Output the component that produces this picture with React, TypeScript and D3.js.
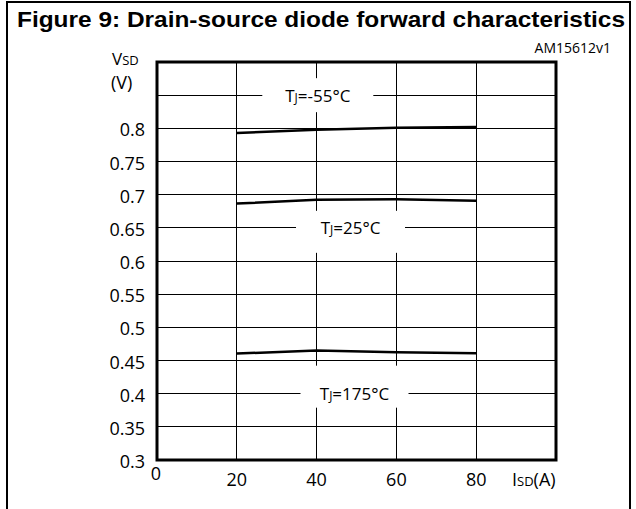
import React from "react";
import * as d3 from "d3";

const currents = [20, 40, 60, 80];
const vMinus55 = [0.793, 0.798, 0.801, 0.802];
const v25 = [0.6865, 0.6925, 0.693, 0.691];
const v175 = [0.4605, 0.465, 0.4625, 0.461];
const yTicks = [0.3, 0.35, 0.4, 0.45, 0.5, 0.55, 0.6, 0.65, 0.7, 0.75, 0.8];
const yGrid = [0.35, 0.4, 0.45, 0.5, 0.55, 0.6, 0.65, 0.7, 0.75, 0.8, 0.85];
const xTicks = [0, 20, 40, 60, 80];
const xGrid = [20, 40, 60, 80];
const seriesLabels = [
  { name: "=-55°C", v: 0.85, x: 40.3 },
  { name: "=25°C", v: 0.65, x: 48.5 },
  { name: "=175°C", v: 0.4, x: 49.5 },
];

const W = 636;
const H = 509;
const left = 157;
const right = 556;
const top = 62;
const bottom = 460;

export default function App() {
  const x = d3.scaleLinear().domain([0, 100]).range([left, right]);
  const y = d3.scaleLinear().domain([0.3, 0.9]).range([bottom, top]);
  const line = d3
    .line<number>()
    .x((_, i) => x(currents[i]))
    .y((d) => y(d));
  const font = "'Open Sans', sans-serif";
  const boxW = [111, 109, 108];
  const boxH2 = [34, 42, 42];
  const offTops = [17, 17, 28];
  return (
    <svg
      width={W}
      height={H}
      style={{ position: "absolute", left: 0, top: 0, background: "#fff" }}
    >
      <rect x={0} y={0} width={W} height={H} fill="#fff" />
      <rect x={7} y={2} width={623} height={540} fill="none" stroke="#000" strokeWidth={2} />
      <text
        x={17}
        y={27}
        fontFamily="'Liberation Sans', Arial, sans-serif"
        fontWeight="bold"
        fontSize={21.5}
        textLength={608}
        lengthAdjust="spacingAndGlyphs"
      >
        Figure 9: Drain-source diode forward characteristics
      </text>
      <text x={611} y={53} textAnchor="end" fontFamily={font} fontSize={14}>
        AM15612v1
      </text>
      <g stroke="#000" strokeWidth={1} shapeRendering="crispEdges">
        {yGrid.map((v) => (
          <line key={"h" + v} x1={left} x2={right} y1={y(v)} y2={y(v)} />
        ))}
        {xGrid.map((v) => (
          <line key={"v" + v} x1={x(v)} x2={x(v)} y1={top} y2={bottom} />
        ))}
      </g>
      {seriesLabels.map((s, i) => {
        const cx = x(s.x);
        const cy = y(s.v);
        return (
          <g key={s.name}>
            <rect
              x={cx - boxW[i] / 2}
              y={cy - offTops[i]}
              width={boxW[i]}
              height={boxH2[i]}
              fill="#fff"
            />
            <text
              x={cx}
              y={cy + 6.5}
              textAnchor="middle"
              fontFamily={font}
              fontSize={17}
            >
              T<tspan fontSize={12}>J</tspan>
              {s.name}
            </text>
          </g>
        );
      })}
      {[vMinus55, v25, v175].map((vals, i) => (
        <path key={i} d={line(vals) || ""} fill="none" stroke="#000" strokeWidth={2.5} />
      ))}
      <rect
        x={left}
        y={top}
        width={right - left}
        height={bottom - top}
        fill="none"
        stroke="#000"
        strokeWidth={3}
      />
      {yTicks.map((v) => (
        <text
          key={"yt" + v}
          x={145}
          y={y(v) + 1}
          textAnchor="end"
          fontFamily={font}
          fontSize={18}
          dominantBaseline="central"
        >
          {String(v)}
        </text>
      ))}
      {xTicks.map((v) => (
        <text
          key={"xt" + v}
          x={x(v) + (v === 0 ? -1 : 0)}
          y={v === 0 ? 480 : 486}
          textAnchor="middle"
          fontFamily={font}
          fontSize={18}
        >
          {String(v)}
        </text>
      ))}
      <text x={512} y={486} fontFamily={font} fontSize={18}>
        I<tspan fontSize={13}>SD</tspan>(A)
      </text>
      <text x={112} y={65} fontFamily={font} fontSize={17}>
        V<tspan fontSize={13}>SD</tspan>
      </text>
      <text x={111} y={89} fontFamily={font} fontSize={18}>
        (V)
      </text>
    </svg>
  );
}
